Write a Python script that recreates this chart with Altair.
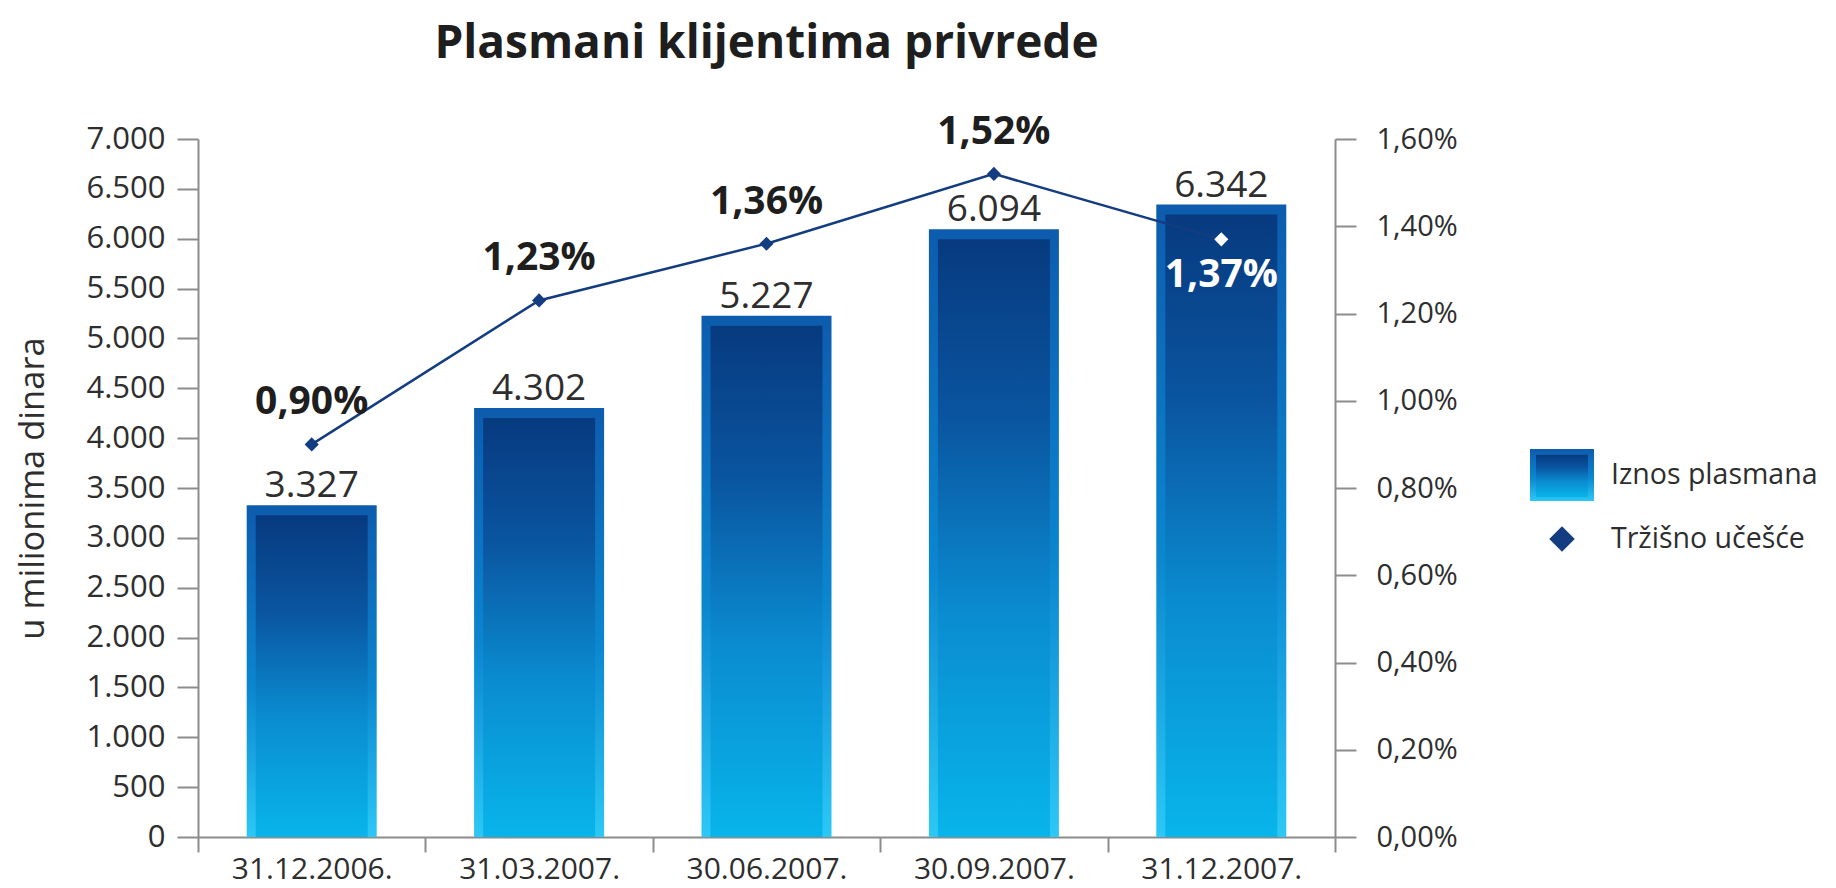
import altair as alt
import pandas as pd

# ---------------- data ----------------
dates = ["31.12.2006.", "31.03.2007.", "30.06.2007.", "30.09.2007.", "31.12.2007."]
amounts = [3327, 4302, 5227, 6094, 6342]          # Iznos plasmana (u milionima dinara)
shares = [0.90, 1.23, 1.36, 1.52, 1.37]           # Tržišno učešće (%)
legend_labels = ["Iznos plasmana", "Tržišno učešće"]
left_ticks = [0, 500, 1000, 1500, 2000, 2500, 3000, 3500, 4000, 4500, 5000, 5500, 6000, 6500, 7000]
right_ticks = [0.0, 0.2, 0.4, 0.6, 0.8, 1.0, 1.2, 1.4, 1.6]
title_text = "Plasmani klijentima privrede"
y_title = "u milionima dinara"

df = pd.DataFrame({"date": dates, "amount": amounts, "share": shares})
df["amount_label"] = [f"{v:,}".replace(",", ".") for v in amounts]
df["share_label"] = [f"{v:.2f}".replace(".", ",") + "%" for v in shares]
df["is_last"] = [d == dates[-1] for d in dates]

leg_df = pd.DataFrame({"item": legend_labels})

# ---------------- style ----------------
FONT = "Open Sans"
AXIS_COL = "#8c8c8c"
TEXT_COL = "#2e2e2e"
NAVY = "#143c80"

outer_grad = alt.LinearGradient(
    gradient="linear", x1=0, x2=0, y1=0, y2=1,
    stops=[alt.GradientStop(color="#0d5cae", offset=0),
           alt.GradientStop(color="#0b86cf", offset=0.55),
           alt.GradientStop(color="#2cc8f6", offset=1)])
inner_grad = alt.LinearGradient(
    gradient="linear", x1=0, x2=0, y1=0, y2=1,
    stops=[alt.GradientStop(color="#073a7f", offset=0),
           alt.GradientStop(color="#0a55a0", offset=0.3),
           alt.GradientStop(color="#0a8bd0", offset=0.62),
           alt.GradientStop(color="#08b5eb", offset=1)])

W, H = 1137, 698

x_enc = alt.X("date:N", sort=dates, title=None,
              scale=alt.Scale(paddingInner=0, paddingOuter=0),
              axis=alt.Axis(labelAngle=0, tickBand="extent", tickSize=15, labelPadding=2,
                            labelFontSize=30, labelFont=FONT, labelColor=TEXT_COL,
                            domainColor=AXIS_COL, tickColor=AXIS_COL,
                            domainWidth=2, tickWidth=2))

y_left = alt.Y("amount:Q", stack=None, scale=alt.Scale(domain=[0, 7000], nice=False),
               axis=alt.Axis(values=left_ticks, grid=False, orient="left",
                             labelExpr="replace(format(datum.value, ','), ',', '.')",
                             title=y_title, titleFont=FONT, titleFontSize=34.5,
                             titleFontWeight="normal", titleColor=TEXT_COL, titlePadding=35,
                             labelFont=FONT, labelFontSize=31, labelColor=TEXT_COL,
                             labelPadding=12, tickSize=21, tickWidth=2, domainWidth=2,
                             tickColor=AXIS_COL, domainColor=AXIS_COL))

y_right = alt.Y("share:Q", scale=alt.Scale(domain=[0, 1.6], nice=False),
                axis=alt.Axis(values=right_ticks, grid=False, orient="right", title=None,
                              labelExpr="replace(format(datum.value, '.2f'), '.', ',') + '%'",
                              labelFont=FONT, labelFontSize=29, labelColor=TEXT_COL,
                              labelPadding=20, tickSize=21, tickWidth=2, domainWidth=2,
                              tickColor=AXIS_COL, domainColor=AXIS_COL))

base = alt.Chart(df)

bars_outer = base.mark_bar(size=130, color=outer_grad).encode(
    x=x_enc, y=y_left, y2=alt.datum(0))
bars_inner = base.mark_bar(size=112, color=inner_grad, yOffset=10, y2Offset=0).encode(
    x=x_enc, y=y_left, y2=alt.datum(0))
bar_labels = base.mark_text(baseline="alphabetic", dy=-8, fontSize=37, font=FONT,
                            color=TEXT_COL).encode(x=x_enc, y=y_left, text="amount_label:N")

left_layer = alt.layer(bars_outer, bars_inner, bar_labels)

line = base.mark_line(color=NAVY, strokeWidth=2.5).encode(x=x_enc, y=y_right)
pts = base.transform_filter("!datum.is_last").mark_point(
    shape="diamond", size=200, filled=True, color=NAVY, opacity=1).encode(x=x_enc, y=y_right)
pt_last = base.transform_filter("datum.is_last").mark_point(
    shape="diamond", size=200, filled=True, color="white", opacity=1).encode(x=x_enc, y=y_right)
pct_above = base.transform_filter("!datum.is_last").mark_text(
    baseline="alphabetic", dy=-30, fontSize=39, font=FONT, fontWeight="bold",
    color="#1e1e1e").encode(x=x_enc, y=y_right, text="share_label:N")
pct_below = base.transform_filter("datum.is_last").mark_text(
    baseline="alphabetic", dy=48, fontSize=39, font=FONT, fontWeight="bold",
    color="white").encode(x=x_enc, y=y_right, text="share_label:N")

right_layer = alt.layer(line, pts, pt_last, pct_above, pct_below)

main = alt.layer(left_layer, right_layer).resolve_scale(y="independent").properties(
    width=W, height=H,
    title=alt.Title(title_text, anchor="middle", frame="group", font=FONT, fontSize=46,
                    fontWeight="bold", color="#1e1e1e", offset=45))

# ---------------- legend panel ----------------
leg_y = alt.Y("item:N", sort=legend_labels, axis=None,
              scale=alt.Scale(type="point", domain=legend_labels, range=[336, 400], padding=0))
leg_base = alt.Chart(leg_df)
rect_outer = "M-1,-0.8125H1V0.8125H-1Z"
rect_inner = "M-1,-0.78H1V0.86H-1Z"
sw_outer = leg_base.transform_filter(alt.datum.item == legend_labels[0]).mark_point(
    shape=rect_outer, size=4096, filled=True, fill=outer_grad, opacity=1, strokeWidth=0
).encode(x=alt.value(45), y=leg_y)
sw_inner = leg_base.transform_filter(alt.datum.item == legend_labels[0]).mark_point(
    shape=rect_inner, size=2704, filled=True, fill=inner_grad, opacity=1, strokeWidth=0
).encode(x=alt.value(45), y=leg_y)
sw_diam = leg_base.transform_filter(alt.datum.item == legend_labels[1]).mark_point(
    shape="diamond", size=650, filled=True, color=NAVY, opacity=1
).encode(x=alt.value(45), y=leg_y)
leg_text = leg_base.mark_text(align="left", baseline="middle", fontSize=28.5, font=FONT,
                              color=TEXT_COL).encode(x=alt.value(94), y=leg_y, text="item:N")
legend_panel = alt.layer(sw_outer, sw_inner, sw_diam, leg_text).properties(width=260, height=H)

chart = alt.hconcat(main, legend_panel, spacing=59).properties(
    padding={"left": 7, "top": 12, "right": 0, "bottom": 10},
    background="white",
).configure_view(stroke=None, strokeWidth=0)

chart.save("out.html", embed_options={"renderer": "svg", "actions": False})
